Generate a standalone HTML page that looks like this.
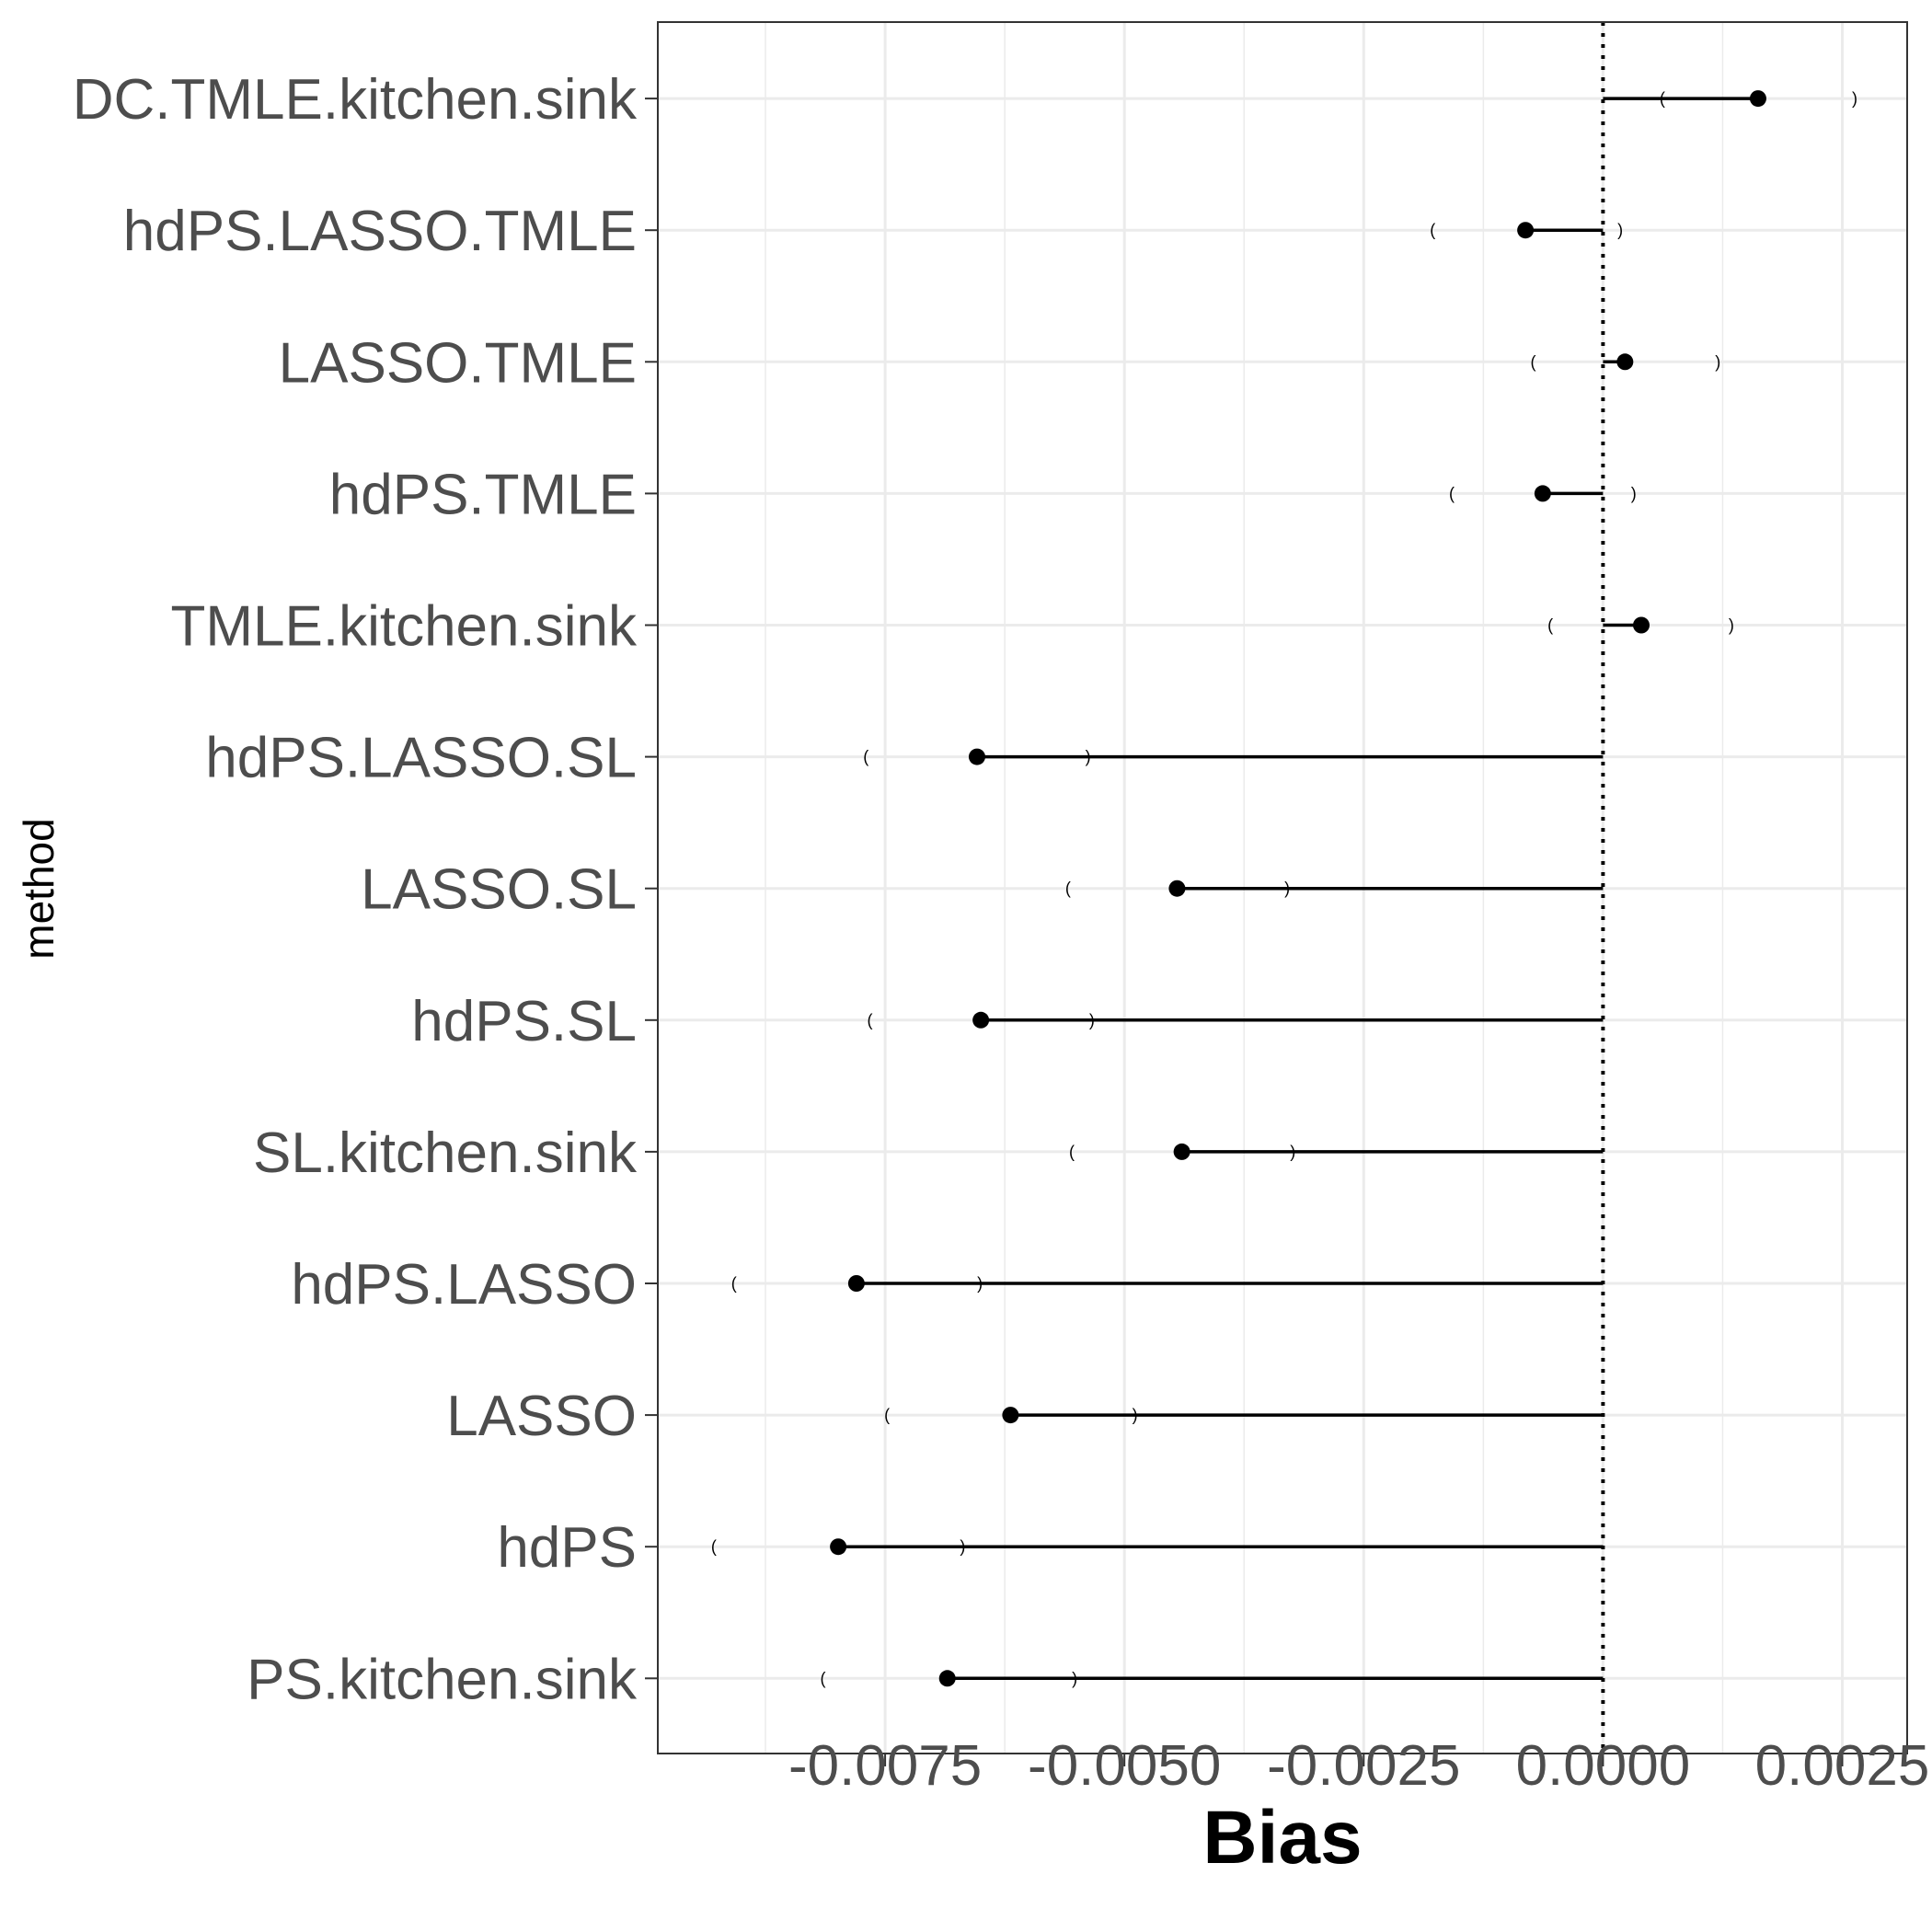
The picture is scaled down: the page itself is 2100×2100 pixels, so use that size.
<!DOCTYPE html>
<html><head><meta charset="utf-8"><style>
html,body{margin:0;padding:0;background:#fff;}
svg{display:block;font-family:"Liberation Sans",sans-serif;}
</style></head><body>
<svg id="chart" width="2100" height="2100" viewBox="0 0 2100 2100" xmlns="http://www.w3.org/2000/svg">
<g id="grid"></g>
<g id="marks"></g>
<rect x="715" y="24" width="1358" height="1882" fill="none" stroke="#333" stroke-width="2"/>
<g id="axes"></g>
<text x="1394" y="2025" text-anchor="middle" font-size="82" font-weight="bold" fill="#000">Bias</text>
<text transform="translate(58,966) rotate(-90)" text-anchor="middle" font-size="46" fill="#000">method</text>
</svg>
<script>
const methods=["DC.TMLE.kitchen.sink","hdPS.LASSO.TMLE","LASSO.TMLE","hdPS.TMLE","TMLE.kitchen.sink","hdPS.LASSO.SL","LASSO.SL","hdPS.SL","SL.kitchen.sink","hdPS.LASSO","LASSO","hdPS","PS.kitchen.sink"];
const bias=[0.00162,-0.00081,0.00023,-0.00063,0.0004,-0.00654,-0.00445,-0.0065,-0.0044,-0.0078,-0.00619,-0.00799,-0.00685];
const lower=[0.00062,-0.00178,-0.00073,-0.00158,-0.00055,-0.0077,-0.00559,-0.00766,-0.00555,-0.00908,-0.00748,-0.00929,-0.00815];
const upper=[0.00263,0.00018,0.0012,0.00032,0.00134,-0.00538,-0.0033,-0.00534,-0.00324,-0.00651,-0.00489,-0.00669,-0.00552];
const xTicks=[-0.0075,-0.005,-0.0025,0,0.0025];
const xTickLabels=["-0.0075","-0.0050","-0.0025","0.0000","0.0025"];
const xMinor=[-0.00875,-0.00625,-0.00375,-0.00125,0.00125];

const NS="http://www.w3.org/2000/svg";
const x=v=>1742.4+v/0.0025*260.1;
const y=i=>107.1+i*143.1;
function mk(parent,tag,attrs){const e=document.createElementNS(NS,tag);for(const k in attrs)e.setAttribute(k,attrs[k]);document.getElementById(parent).appendChild(e);return e;}
xMinor.forEach(v=>{const e=mk('grid','line',{x1:x(v),x2:x(v),y1:24,y2:1906,stroke:'#ebebeb','stroke-width':1.5});

});
xTicks.forEach((v,i)=>{const e=mk('grid','line',{x1:x(v),x2:x(v),y1:24,y2:1906,stroke:'#ebebeb','stroke-width':3});


const t=mk('axes','line',{x1:x(v),x2:x(v),y1:1906,y2:1920,stroke:'#333','stroke-width':2});


const l=mk('axes','text',{x:x(v),y:1940,'text-anchor':'middle','font-size':62,fill:'#4d4d4d'});l.textContent=xTickLabels[i];

});
methods.forEach((m,i)=>{const g=mk('grid','line',{x1:715,x2:2073,y1:y(i),y2:y(i),stroke:'#ebebeb','stroke-width':3});


const t=mk('axes','line',{x1:701,x2:715,y1:y(i),y2:y(i),stroke:'#333','stroke-width':2});


const l=mk('axes','text',{x:692,y:y(i)+22,'text-anchor':'end','font-size':62,fill:'#4d4d4d'});l.textContent=m;

});
mk('marks','line',{x1:x(0),x2:x(0),y1:24,y2:1906,stroke:'#000','stroke-width':4,'stroke-dasharray':'4,8'});
methods.forEach((m,i)=>{
const s=mk('marks','line',{x1:x(0),x2:x(bias[i]),y1:y(i),y2:y(i),stroke:'#000','stroke-width':3.5});


const lo=mk('marks','text',{x:x(lower[i]),y:y(i)+6,'text-anchor':'middle','font-size':18,fill:'#000'});lo.textContent='(';


const hi=mk('marks','text',{x:x(upper[i]),y:y(i)+6,'text-anchor':'middle','font-size':18,fill:'#000'});hi.textContent=')';


const c=mk('marks','circle',{cx:x(bias[i]),cy:y(i),r:9,fill:'#000'});


});
</script>
</body></html>
